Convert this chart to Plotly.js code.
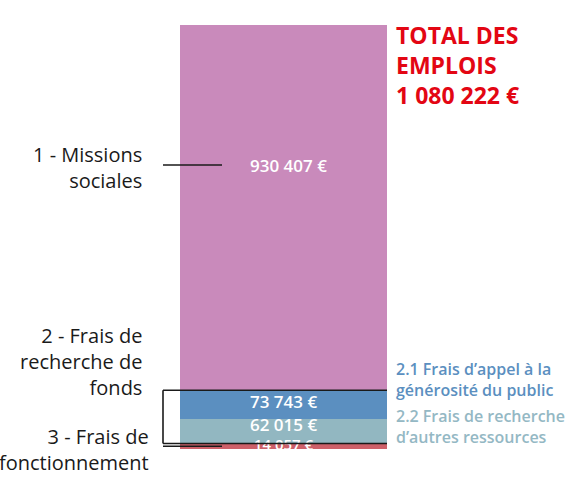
<!DOCTYPE html>
<html>
<head>
<meta charset="utf-8">
<script src="https://cdn.plot.ly/plotly-3.0.1.min.js"></script>
<style>html,body{margin:0;padding:0;background:#fff;overflow:hidden}#chart{width:573px;height:477px}</style>
</head>
<body>
<div id="chart"></div>
<script>
// Data (stack order: bottom to top)
const segmentNames = ["3 - Frais de fonctionnement", "2.2 Frais de recherche d'autres ressources", "2.1 Frais d'appel à la générosité du public", "1 - Missions sociales"];
const segmentValues = [14057, 62015, 73743, 930407];
const segmentLabels = ["14 057 €", "62 015 €", "73 743 €", "930 407 €"];
const segmentColors = ["#cd6069", "#92b7c1", "#5b8fc0", "#c98abb"];
const totalLabel = "TOTAL DES<br>EMPLOIS<br>1 080 222 €";

const total = segmentValues.reduce((a, b) => a + b, 0);
const cum = [];
let acc = 0;
segmentValues.forEach(v => { cum.push(acc); acc += v; });

const traces = segmentValues.map((v, i) => ({
  type: "bar",
  x: [0],
  y: [v],
  width: [1],
  name: segmentNames[i],
  marker: { color: segmentColors[i], line: { width: 0 } },
  hoverinfo: "none",
  showlegend: false
}));

const valueFont = { family: "Open Sans", size: 17, color: "#ffffff", weight: 600 };

// smallest segment label: clipped by the plot area like in the reference
traces.push({
  type: "scatter", mode: "text",
  x: [0], y: [cum[0] + segmentValues[0] / 2],
  text: [segmentLabels[0]], textposition: "middle center",
  textfont: { family: "Open Sans", size: 15, color: "#ffffff", weight: 600 }, cliponaxis: true,
  hoverinfo: "none", showlegend: false
});

const W = 207, H = 424, L = 180, B = 449;
const px = x => (x - L) / W;
const py = y => (B - y) / H;

const annotations = [];
annotations.push({
  xref: "x", yref: "y", x: 0, y: cum[1] + segmentValues[1] / 2, yshift: 7,
  text: segmentLabels[1], showarrow: false, font: valueFont,
  xanchor: "center", yanchor: "middle"
});
annotations.push({
  xref: "x", yref: "y", x: 0, y: cum[2] + segmentValues[2] / 2, yshift: 3,
  text: segmentLabels[2], showarrow: false, font: valueFont,
  xanchor: "center", yanchor: "middle"
});
annotations.push({
  xref: "paper", yref: "paper", x: px(288), y: py(166),
  text: segmentLabels[3], showarrow: false, font: valueFont,
  xanchor: "center", yanchor: "middle"
});

const leftFont = { family: "Open Sans", size: 20, color: "#1a1a1a" };
annotations.push(
  { xref: "paper", yref: "paper", x: px(144), y: py(167), text: "1 - Missions<br>sociales",
    showarrow: false, font: leftFont, xanchor: "right", yanchor: "middle", align: "right" },
  { xref: "paper", yref: "paper", x: px(144), y: py(361), text: "2 - Frais de<br>recherche de<br>fonds",
    showarrow: false, font: leftFont, xanchor: "right", yanchor: "middle", align: "right" },
  { xref: "paper", yref: "paper", x: px(151), y: py(450), text: "3 - Frais de<br>fonctionnement",
    showarrow: false, font: leftFont, xanchor: "right", yanchor: "middle", align: "right" },
  { xref: "paper", yref: "paper", x: px(394), y: py(65), text: totalLabel,
    showarrow: false, font: { family: "Open Sans", size: 23, color: "#e30613", weight: 700 },
    xanchor: "left", yanchor: "middle", align: "left" },
  { xref: "paper", yref: "paper", x: px(394), y: py(379), text: "2.1 Frais d’appel à la<br>générosité du public",
    showarrow: false, font: { family: "Open Sans", size: 16, color: "#5b8fc0", weight: 600 },
    xanchor: "left", yanchor: "middle", align: "left" },
  { xref: "paper", yref: "paper", x: px(394), y: py(426), text: "2.2 Frais de recherche<br>d’autres ressources",
    showarrow: false, font: { family: "Open Sans", size: 16, color: "#94b8c4", weight: 600 },
    xanchor: "left", yanchor: "middle", align: "left" }
);

const lineStyle = { color: "#1a1a1a", width: 1.6 };
const sec2Bottom = cum[1];
const sec2Top = cum[3];
const shapes = [
  { type: "line", xref: "paper", yref: "y", x0: px(163), x1: 1, y0: sec2Top, y1: sec2Top, line: lineStyle },
  { type: "line", xref: "paper", yref: "y", x0: px(163), x1: 1, y0: sec2Bottom, y1: sec2Bottom, line: lineStyle },
  { type: "line", xref: "paper", yref: "y", x0: px(163), x1: px(163), y0: sec2Bottom, y1: sec2Top, line: lineStyle },
  { type: "line", xref: "paper", yref: "y", x0: px(163), x1: px(222), y0: cum[0] + segmentValues[0] / 2, y1: cum[0] + segmentValues[0] / 2, line: lineStyle },
  { type: "line", xref: "paper", yref: "paper", x0: px(163), x1: px(222), y0: py(165), y1: py(165), line: lineStyle }
];

const layout = {
  width: 573, height: 477,
  margin: { l: 180, r: 186, t: 25, b: 28, pad: 0 },
  paper_bgcolor: "#ffffff", plot_bgcolor: "#ffffff",
  barmode: "stack", bargap: 0,
  xaxis: { visible: false, range: [-0.5, 0.5], fixedrange: true },
  yaxis: { visible: false, range: [0, total], fixedrange: true },
  annotations: annotations,
  shapes: shapes,
  showlegend: false
};

Plotly.newPlot("chart", traces, layout, { staticPlot: true, displayModeBar: false });
</script>
</body>
</html>
